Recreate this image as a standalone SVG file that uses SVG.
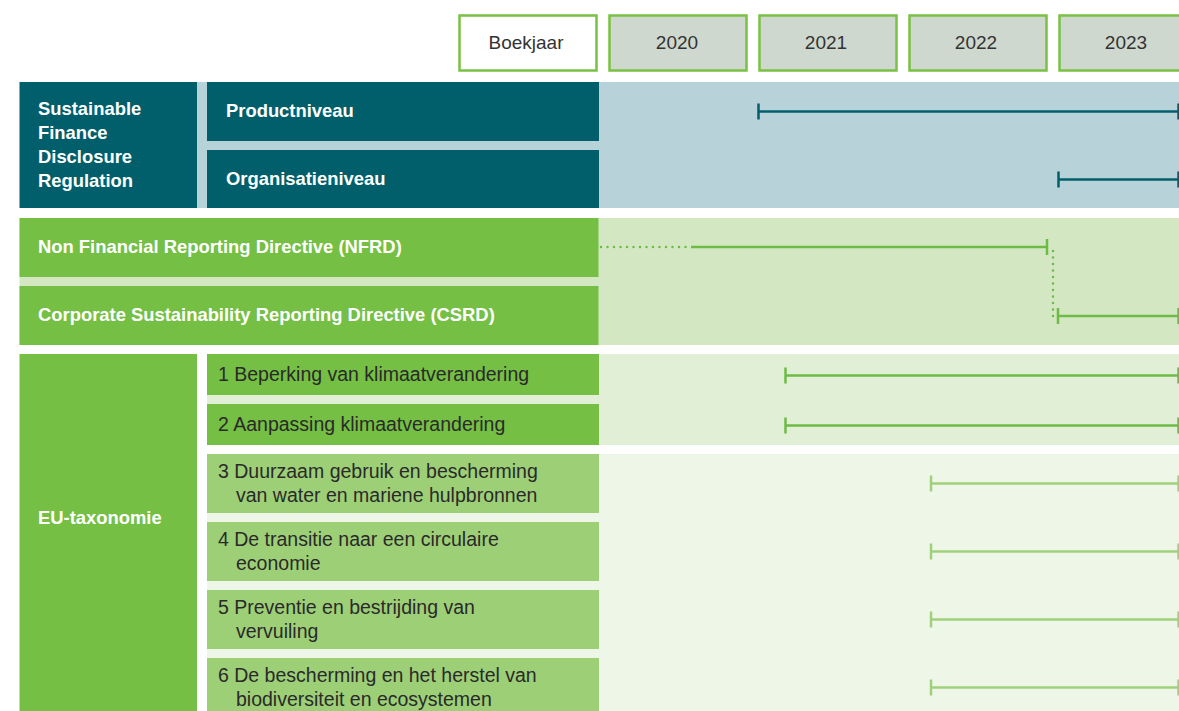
<svg xmlns="http://www.w3.org/2000/svg" width="1179" height="711" viewBox="0 0 1179 711">
<style>
.teal{fill:#005f6b}
.lblue{fill:#b8d2d9}
.green{fill:#74bf44}
.lgreen{fill:#9dcf77}
.year{fill:#cfd8ce;stroke:#7ac143;stroke-width:2.5}
.yearw{fill:#ffffff;stroke:#7ac143;stroke-width:2.5}
.yt{font-family:"Liberation Sans",Arial,sans-serif;font-size:19px;fill:#333333;text-anchor:middle}
.wb{font-family:"Liberation Sans",Arial,sans-serif;font-size:18.4px;font-weight:bold;fill:#ffffff}
.dk{font-family:"Liberation Sans",Arial,sans-serif;font-size:19.5px;fill:#2a2a2a}
.ln{fill:none;stroke-width:2.5}
.lt{stroke:#005f6b}
.lg{stroke:#6dbb45}
.ll{stroke:#9fd07c}
.dot{fill:none;stroke:#6dbb45;stroke-width:2.5;stroke-linecap:round;stroke-dasharray:0 6.5}
</style>
<defs>
<marker id="tk-teal" markerUnits="userSpaceOnUse" viewBox="0 0 4 18" markerWidth="4" markerHeight="18" refX="2" refY="9" orient="auto"><path d="M2 1V17" stroke="#005f6b" stroke-width="2.5"/></marker>
<marker id="tk-green" markerUnits="userSpaceOnUse" viewBox="0 0 4 18" markerWidth="4" markerHeight="18" refX="2" refY="9" orient="auto"><path d="M2 1V17" stroke="#6dbb45" stroke-width="2.5"/></marker>
<marker id="tk-light" markerUnits="userSpaceOnUse" viewBox="0 0 4 18" markerWidth="4" markerHeight="18" refX="2" refY="9" orient="auto"><path d="M2 1V17" stroke="#9fd07c" stroke-width="2.5"/></marker>
</defs>
<rect width="1179" height="711" fill="#ffffff"/>

<!-- header -->
<g id="hdr-boekjaar"><rect class="yearw" x="459.5" y="15.5" width="137" height="55"/><text class="yt" x="526" y="49">Boekjaar</text></g>
<g id="hdr-2020"><rect class="year" x="609.5" y="15.5" width="137" height="55"/><text class="yt" x="677" y="49">2020</text></g>
<g id="hdr-2021"><rect class="year" x="759.5" y="15.5" width="137" height="55"/><text class="yt" x="826" y="49">2021</text></g>
<g id="hdr-2022"><rect class="year" x="909.5" y="15.5" width="137" height="55"/><text class="yt" x="976" y="49">2022</text></g>
<g id="hdr-2023"><rect class="year" x="1059.5" y="15.5" width="137" height="55"/><text class="yt" x="1126" y="49">2023</text></g>

<!-- SFDR -->
<rect id="bg-sfdr" class="lblue" x="197" y="82" width="982" height="126"/>
<g id="sfdr"><rect class="teal" x="19.5" y="82" width="177.5" height="126"/>
<text class="wb" x="38" y="115">Sustainable</text>
<text class="wb" x="38" y="139">Finance</text>
<text class="wb" x="38" y="163">Disclosure</text>
<text class="wb" x="38" y="187">Regulation</text></g>
<g id="productniveau"><rect class="teal" x="207" y="82" width="392" height="59"/><text class="wb" x="226" y="117">Productniveau</text></g>
<g id="organisatieniveau"><rect class="teal" x="207" y="150" width="392" height="58"/><text class="wb" x="226" y="185">Organisatieniveau</text></g>

<!-- NFRD / CSRD -->
<rect id="bg-nfrd" x="19.5" y="218" width="1160" height="127" fill="#d3e8c2"/>
<g id="nfrd"><rect class="green" x="19.5" y="218" width="579" height="59"/><text class="wb" x="38" y="253">Non Financial Reporting Directive (NFRD)</text></g>
<g id="csrd"><rect class="green" x="19.5" y="286" width="579" height="59"/><text class="wb" x="38" y="321">Corporate Sustainability Reporting Directive (CSRD)</text></g>

<!-- EU taxonomie -->
<rect id="bg-eu1" x="207" y="354" width="972" height="91" fill="#e1efd6"/>
<rect id="bg-eu2" x="207" y="454" width="972" height="257" fill="#eef6e7"/>
<g id="eu-taxonomie"><rect class="green" x="19.5" y="354" width="177.5" height="357"/><text class="wb" x="38" y="524">EU-taxonomie</text></g>
<g id="eu-1"><rect class="green" x="207" y="354" width="392" height="41"/><text class="dk" x="218" y="381">1 Beperking van klimaatverandering</text></g>
<g id="eu-2"><rect class="green" x="207" y="404" width="392" height="41"/><text class="dk" x="218" y="431">2 Aanpassing klimaatverandering</text></g>
<g id="eu-3"><rect class="lgreen" x="207" y="454" width="392" height="59"/><text class="dk" x="218" y="478">3 Duurzaam gebruik en bescherming</text><text class="dk" x="236" y="502">van water en mariene hulpbronnen</text></g>
<g id="eu-4"><rect class="lgreen" x="207" y="522" width="392" height="59"/><text class="dk" x="218" y="546">4 De transitie naar een circulaire</text><text class="dk" x="236" y="570">economie</text></g>
<g id="eu-5"><rect class="lgreen" x="207" y="590" width="392" height="59"/><text class="dk" x="218" y="614">5 Preventie en bestrijding van</text><text class="dk" x="236" y="638">vervuiling</text></g>
<g id="eu-6"><rect class="lgreen" x="207" y="658" width="392" height="59"/><text class="dk" x="218" y="682">6 De bescherming en het herstel van</text><text class="dk" x="236" y="706">biodiversiteit en ecosystemen</text></g>

<!-- connectors / timelines -->
<g id="connectors">
<path class="ln lt" d="M758.5 111.5H1178.5" marker-start="url(#tk-teal)" marker-end="url(#tk-teal)"/>
<path class="ln lt" d="M1058.5 179.5H1178.5" marker-start="url(#tk-teal)" marker-end="url(#tk-teal)"/>
<path class="dot" d="M601 247H688"/>
<path class="ln lg" d="M691 247H1047" marker-end="url(#tk-green)"/>
<path class="dot" d="M1053 251V318"/>
<path class="ln lg" d="M1058 316H1178.5" marker-start="url(#tk-green)" marker-end="url(#tk-green)"/>
<path class="ln lg" d="M785.5 375.5H1178.5" marker-start="url(#tk-green)" marker-end="url(#tk-green)"/>
<path class="ln lg" d="M785.5 425.5H1178.5" marker-start="url(#tk-green)" marker-end="url(#tk-green)"/>
<path class="ln ll" d="M931 483.5H1178.5" marker-start="url(#tk-light)" marker-end="url(#tk-light)"/>
<path class="ln ll" d="M931 551.5H1178.5" marker-start="url(#tk-light)" marker-end="url(#tk-light)"/>
<path class="ln ll" d="M931 619.5H1178.5" marker-start="url(#tk-light)" marker-end="url(#tk-light)"/>
<path class="ln ll" d="M931 687.5H1178.5" marker-start="url(#tk-light)" marker-end="url(#tk-light)"/>
</g>
</svg>
